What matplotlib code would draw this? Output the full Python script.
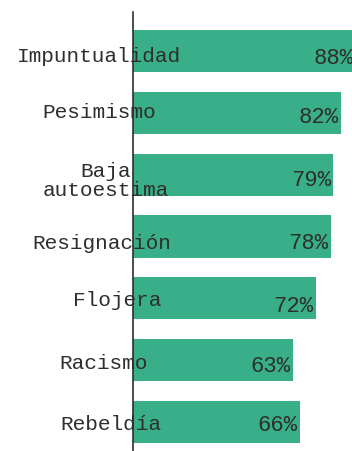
import matplotlib
matplotlib.use('Agg')
import matplotlib.pyplot as plt
from matplotlib.transforms import blended_transform_factory, offset_copy

categorias = ['Impuntualidad', 'Pesimismo', 'Baja\nautoestima', 'Resignación',
              'Flojera', 'Racismo', 'Rebeldía']
valores = [88, 82, 79, 78, 72, 63, 66]

# layout de las etiquetas (px), medido sobre el original
etiqueta_x = [17, 42, 43, 32, 73, 59, 60]
etiqueta_dy = [9.7, 4.3, 20.7, 11, 6.7, 7.7, 6.7]
valor_dy = [12, 8.7, 10.7, 11, 12.7, 11, 8.3]

VERDE = '#38af88'
GRIS = '#2e2e2e'
W, H = 352, 452
X0 = 133          # px del eje
PX_POR_PCT = 2.537

fig = plt.figure(figsize=(W/100, H/100), dpi=100)
ax = fig.add_axes([X0/W, 0, (W-X0)/W, 439/H])

y = range(len(categorias))
ax.barh(y, valores, height=0.68, color=VERDE, zorder=1)
ax.set_xlim(0, (W-X0)/PX_POR_PCT)
ax.set_ylim(6.469, -0.631)

for s in ['top', 'right', 'bottom']:
    ax.spines[s].set_visible(False)
ax.spines['left'].set_color(GRIS)
ax.spines['left'].set_linewidth(1.2)
ax.spines['left'].set_zorder(2)
ax.set_xticks([])
ax.set_yticks([])

fuente = dict(family='Liberation Mono', color=GRIS)
tr = blended_transform_factory(fig.transFigure, ax.transData)
for i, (cat, v) in enumerate(zip(categorias, valores)):
    t = offset_copy(tr, fig=fig, y=-etiqueta_dy[i], units='dots')
    ax.text(etiqueta_x[i]/W, i, cat, transform=t, ha='left', va='baseline',
            multialignment='center', linespacing=1.0, zorder=3, size=15.2,
            **fuente)
    ax.annotate(f'{v}%', xy=(v, i), xytext=(-2.5, -valor_dy[i]),
                textcoords='offset pixels', ha='right', va='baseline',
                annotation_clip=False, zorder=3, size=16, **fuente)

fig.savefig('out.png', dpi=100)
